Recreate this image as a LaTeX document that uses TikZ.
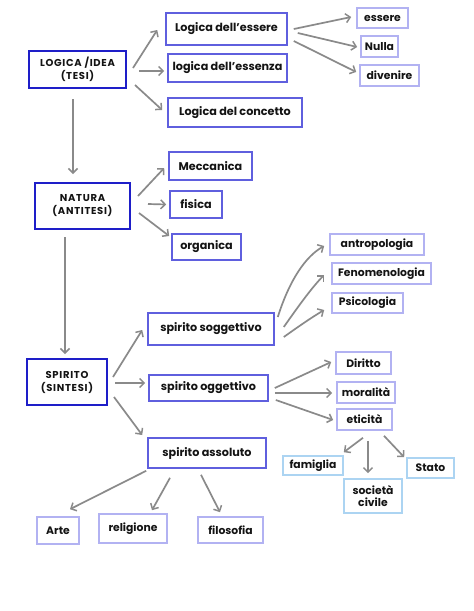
\documentclass[tikz,border=0pt]{standalone}
\usepackage{fontspec}
\setmainfont{Poppins}
\newfontfamily\capsfont{Poppins}[LetterSpace=7]
\usetikzlibrary{arrows.meta}
\definecolor{topc}{RGB}{30,30,200}
\definecolor{midc}{RGB}{95,95,222}
\definecolor{lightc}{RGB}{178,178,242}
\definecolor{skyc}{RGB}{172,212,242}
\definecolor{arrc}{RGB}{138,138,138}
\definecolor{txtc}{RGB}{20,20,20}
\tikzset{
  bx/.style={draw, fill=white, inner sep=0pt, align=center, text=txtc, line width=1.6pt},
  topbox/.style={bx, draw=topc, line width=2pt, font=\capsfont\bfseries\fontsize{10}{13}\selectfont},
  midbox/.style={bx, draw=midc, font=\bfseries\fontsize{11.2}{13}\selectfont},
  lightbox/.style={bx, draw=lightc, font=\bfseries\fontsize{10.8}{12.5}\selectfont},
  skybox/.style={bx, draw=skyc, font=\bfseries\fontsize{10.8}{12.5}\selectfont},
  arr/.style={draw=arrc, line width=1.7pt, -{Straight Barb[length=4.5pt,width=9pt,line width=1.5pt]}},
  sz/.style 2 args={minimum width=#1pt, minimum height=#2pt}
}
\begin{document}
\begin{tikzpicture}[x=1pt,y=-1pt]
\useasboundingbox (0,0) rectangle (474,611);
\fill[white] (0,0) rectangle (474,611);
% level 1
\node[topbox, sz={97}{37}] (logica) at (77.5,69.5) {LOGICA /IDEA\\(TESI)};
\node[topbox, sz={95}{46}] (natura) at (82.5,206) {NATURA\\(ANTITESI)};
\node[topbox, sz={80}{46}] (spirito) at (67,382) {SPIRITO\\(SINTESI)};
% level 2
\node[midbox, sz={121}{32}] (lessere) at (226.5,29) {Logica dell'essere};
\node[midbox, sz={119}{28}] (lessenza) at (227.5,68) {logica dell'essenza};
\node[midbox, sz={134}{29}] (lconcetto) at (235,112.5) {Logica del concetto};
\node[midbox, sz={83}{28}] (meccanica) at (210.5,166) {Meccanica};
\node[midbox, sz={52}{27}] (fisica) at (196,204.5) {fisica};
\node[midbox, sz={69}{26}] (organica) at (206.5,247) {organica};
\node[midbox, sz={126}{32}] (sogg) at (211,329) {spirito soggettivo};
\node[midbox, sz={119}{26}] (ogg) at (208.5,388) {spirito oggettivo};
\node[midbox, sz={118}{30}] (assoluto) at (207,453) {spirito assoluto};
% level 3
\node[lightbox, sz={51}{20}] (essere) at (382.5,18) {essere};
\node[lightbox, sz={37}{21}] (nulla) at (379.5,46.5) {Nulla};
\node[lightbox, sz={59}{21}] (divenire) at (389.5,75.5) {divenire};
\node[lightbox, sz={94}{21}] (antro) at (377,244.5) {antropologia};
\node[lightbox, sz={99}{21}] (fenom) at (381.5,273.5) {Fenomenologia};
\node[lightbox, sz={71}{20}] (psico) at (367.5,303) {Psicologia};
\node[lightbox, sz={55}{22}] (diritto) at (363.5,363) {Diritto};
\node[lightbox, sz={58}{21}] (moralita) at (366,392.5) {moralità};
\node[lightbox, sz={55}{21}] (eticita) at (364.5,419.5) {eticità};
\node[lightbox, sz={42}{27}] (arte) at (58,530.5) {Arte};
\node[lightbox, sz={68}{29}] (religione) at (133,528.5) {religione};
\node[lightbox, sz={65}{26}] (filosofia) at (230.5,530) {filosofia};
% level 4
\node[skybox, sz={60}{19}] (famiglia) at (313,465.5) {famiglia};
\node[skybox, sz={58}{34}] (societa) at (373,496) {società\\civile};
\node[skybox, sz={47}{20}] (stato) at (430.5,468) {Stato};
% arrows from LOGICA
\draw[arr] ([xshift=6pt,yshift=1.5pt]logica.east) -- ([xshift=-8pt,yshift=-1pt]lessere.west);
\draw[arr] ([xshift=12pt,yshift=-1.5pt]logica.east) -- ([xshift=-3pt,yshift=-3pt]lessenza.west);
\draw[arr] ([xshift=8pt,yshift=-15.5pt]logica.east) -- ([xshift=-5pt,yshift=2.5pt]lconcetto.west);
\draw[arr] ([xshift=6pt]lessere.east) -- ([xshift=-5pt,yshift=1pt]essere.west);
\draw[arr] ([xshift=10pt,yshift=-4pt]lessere.east) -- ([xshift=-3pt,yshift=-0.5pt]nulla.west);
\draw[arr] ([xshift=6pt,yshift=-12pt]lessere.east) -- ([xshift=-3pt,yshift=3.5pt]divenire.west);
\draw[arr] ([xshift=-4.5pt,yshift=-10pt]logica.south) -- ([xshift=-9.5pt,yshift=8pt]natura.north);
% arrows from NATURA
\draw[arr] ([xshift=7pt,yshift=10pt]natura.east) -- ([xshift=-4pt,yshift=-2pt]meccanica.west);
\draw[arr] ([xshift=17pt,yshift=2pt]natura.east) -- ([xshift=-3pt]fisica.west);
\draw[arr] ([xshift=8pt,yshift=-7pt]natura.east) -- ([xshift=-2pt,yshift=11pt]organica.west);
\draw[arr] ([xshift=-17.5pt,yshift=-7pt]natura.south) -- ([xshift=-2pt,yshift=4pt]spirito.north);
% arrows from SPIRITO
\draw[arr] ([xshift=5pt,yshift=5pt]spirito.east) -- ([xshift=-5pt,yshift=-1pt]sogg.west);
\draw[arr] ([xshift=7pt,yshift=-1pt]spirito.east) -- ([xshift=-3pt,yshift=5pt]ogg.west);
\draw[arr] ([xshift=6pt,yshift=-15pt]spirito.east) -- ([xshift=-5pt,yshift=18pt]assoluto.west);
% from soggettivo
\draw[arr] ([xshift=3pt,yshift=12pt]sogg.east) .. controls +(12,-38) and +(-18,10) .. ([xshift=-5pt,yshift=-1.5pt]antro.west);
\draw[arr] ([xshift=9pt,yshift=2pt]sogg.east) .. controls +(14,-20) and +(-12,12) .. ([xshift=-7pt,yshift=-1.5pt]fenom.west);
\draw[arr] ([xshift=9pt,yshift=-8pt]sogg.east) .. controls +(14,-10) and +(-12,7) .. ([xshift=-7pt,yshift=-7pt]psico.west);
% from oggettivo
\draw[arr] ([xshift=6pt]ogg.east) -- ([xshift=-4pt,yshift=1pt]diritto.west);
\draw[arr] ([xshift=6pt,yshift=-5pt]ogg.east) -- ([xshift=-4pt,yshift=-0.5pt]moralita.west);
\draw[arr] ([xshift=7pt,yshift=-12pt]ogg.east) -- ([xshift=-3pt,yshift=-0.5pt]eticita.west);
% from eticita
\draw[arr] ([xshift=-1.5pt,yshift=-7pt]eticita.south) -- ([yshift=3pt]famiglia.north east);
\draw[arr] ([xshift=3.5pt,yshift=-10pt]eticita.south) -- ([xshift=-5pt,yshift=5pt]societa.north);
\draw[arr] ([xshift=19.5pt,yshift=-5pt]eticita.south) -- ([xshift=-2pt]stato.north west);
% from assoluto
\draw[arr] ([xshift=-1pt,yshift=-2pt]assoluto.south west) -- ([xshift=12pt,yshift=7pt]arte.north);
\draw[arr] ([xshift=-37pt,yshift=-9pt]assoluto.south) -- ([xshift=19pt,yshift=3pt]religione.north);
\draw[arr] ([xshift=-6pt,yshift=-6pt]assoluto.south) -- ([xshift=-10.5pt,yshift=4pt]filosofia.north);
\end{tikzpicture}
\end{document}
